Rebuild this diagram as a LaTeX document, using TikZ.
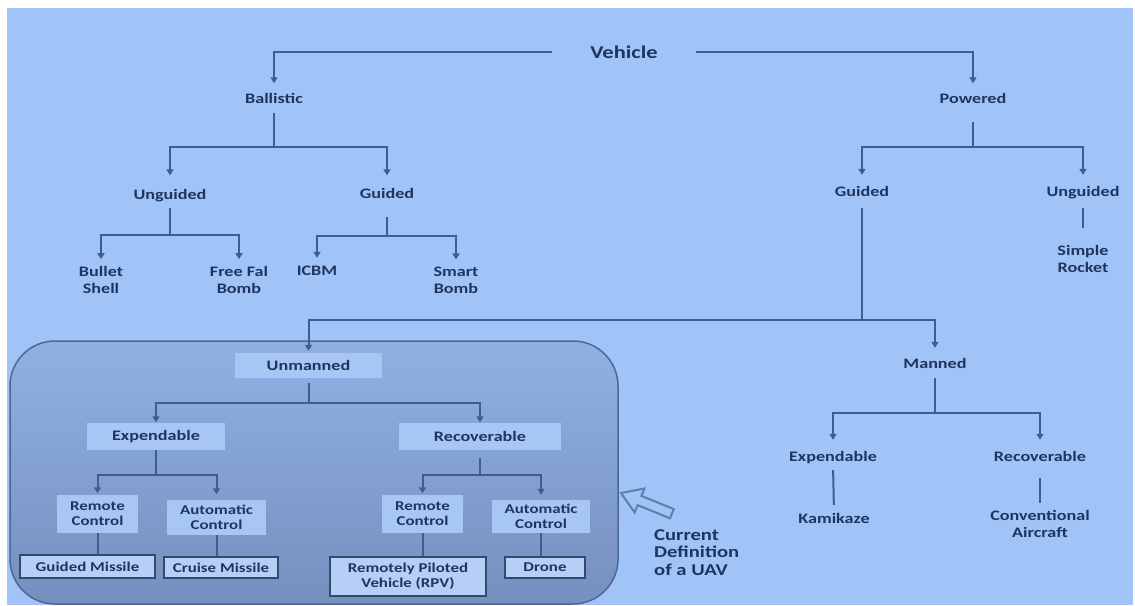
\documentclass[tikz,border=0pt]{standalone}
\usepackage{fontspec}
\setmainfont[FakeStretch=1.25]{Carlito}
\usetikzlibrary{arrows.meta,calc}
\definecolor{bg}{HTML}{A0C4F8}
\definecolor{txt}{HTML}{1E3560}
\definecolor{ln}{HTML}{3D5E8E}
\definecolor{boxtop}{HTML}{90B0E4}
\definecolor{boxbot}{HTML}{7690BE}
\definecolor{boxln}{HTML}{4C6892}
\definecolor{inbox}{HTML}{A8C6F4}
\definecolor{leaf}{HTML}{B6CFF6}
\definecolor{leafln}{HTML}{34496E}
\definecolor{hollow}{HTML}{5F7FA8}
\begin{document}
\begin{tikzpicture}[x=1pt,y=-1pt,
  lbl/.style={inner sep=0pt, text=txt, font=\bfseries\fontsize{14.5}{17}\selectfont, align=center},
  one/.style={lbl, text height=10pt, text depth=3pt},
  ibox/.style={inner sep=0pt, text=txt, font=\bfseries\fontsize{13.5}{15}\selectfont, align=center, fill=inbox},
  leafbox/.style={ibox, fill=leaf, draw=leafln, line width=2.5pt},
  conn/.style={draw=ln, line width=2pt},
  arr/.style={conn, -{Triangle[width=7pt,length=6pt]}},
]
\useasboundingbox (0,0) rectangle (1135,605);
\fill[bg] (7,8) rectangle (1133,605);

% UAV box
\draw[boxln, line width=1.5pt, top color=boxtop, bottom color=boxbot, rounded corners=45pt] (10,341) rectangle (618,604);

% top level
\node[lbl, font=\bfseries\fontsize{18}{20}\selectfont, minimum width=143] (veh) at (624,52) {Vehicle};
\node[one] (ball) at (274,100) {Ballistic};
\node[one] (pow) at (973,100) {Powered};

\node[one] (ung1) at (170,196) {Unguided};
\node[one] (gd1) at (387,195) {Guided};
\node[lbl] (bullet) at (101,280) {Bullet\\Shell};
\node[lbl] (freefal) at (239,280) {Free Fal\\Bomb};
\node[one] (icbm) at (317,272) {ICBM};
\node[lbl] (smart) at (456,280) {Smart\\Bomb};

\node[one] (gd2) at (862,193) {Guided};
\node[one] (ung2) at (1083,193) {Unguided};
\node[lbl] (rocket) at (1083,259) {Simple\\Rocket};

\node[one] (man) at (935,365) {Manned};
\node[one] (exp2) at (833,458) {Expendable};
\node[one] (rec2) at (1040,458) {Recoverable};
\node[one] (kami) at (834,520) {Kamikaze};
\node[lbl] (conv) at (1040,524) {Conventional\\Aircraft};

% unmanned boxes
\node[ibox, font=\bfseries\fontsize{14.5}{17}\selectfont, minimum width=147, minimum height=25] (unm) at (308.5,365.5) {Unmanned};
\node[ibox, font=\bfseries\fontsize{14.5}{17}\selectfont, minimum width=138, minimum height=27] (exp1) at (156,436.5) {Expendable};
\node[ibox, font=\bfseries\fontsize{14.5}{17}\selectfont, minimum width=162, minimum height=27] (rec1) at (480,436.5) {Recoverable};
\node[ibox, minimum width=81, minimum height=38] (rc1) at (97.5,514) {Remote\\Control};
\node[ibox, minimum width=99, minimum height=35] (ac1) at (216.5,517) {Automatic\\Control};
\node[ibox, minimum width=81, minimum height=38] (rc2) at (422.5,514) {Remote\\Control};
\node[ibox, minimum width=98, minimum height=33] (ac2) at (541,516.5) {Automatic\\Control};
\node[leafbox, minimum width=135, minimum height=23] (gm) at (87.5,566.5) {Guided Missile};
\node[leafbox, minimum width=114, minimum height=21] (cm) at (221,567.5) {Cruise Missile};
\node[leafbox, minimum width=156, minimum height=39] (rpv) at (408,576.5) {Remotely Piloted\\Vehicle (RPV)};
\node[leafbox, minimum width=80, minimum height=21] (drone) at (545,567.5) {Drone};

% current definition label and hollow arrow
\node[lbl, font=\bfseries\fontsize{16.5}{17.5}\selectfont, align=left, anchor=north west] (cur) at (654,529) {Current\\Definition\\of a UAV};
\draw[hollow, line width=2pt, fill=bg, line join=miter]
  (621,493) -- (644.4,488.5) -- (641.4,495.9) -- (673.8,509.1) -- (670,518.3)
  -- (637.6,505.1) -- (634.6,512.5) -- cycle;

% connectors: vehicle
\draw[arr, shorten >=10pt] (veh.west) -| (ball.north);
\draw[arr, shorten >=10pt] (veh.east) -| (pow.north);

% ballistic
\draw[arr, shorten <=6.5pt, shorten >=14pt] (ball.south) -- ++(0,40.5) -| (ung1.north);
\draw[arr, shorten >=13pt] (ball.south) ++(0,40.5) -| (gd1.north);
\draw[arr, shorten <=5.5pt, shorten >=7pt] (ung1.south) -- ++(0,32.5) -| (bullet.north);
\draw[arr, shorten >=7pt] (ung1.south) ++(0,32.5) -| (freefal.north);
\draw[arr, shorten <=15pt, shorten >=7.5pt] (gd1.south) -- ++(0,34.5) -| (icbm.north);
\draw[arr, shorten >=7pt] (gd1.south) ++(0,34.5) -| (smart.north);

% powered
\draw[arr, shorten <=15.5pt, shorten >=11.5pt] (pow.south) -- ++(0,40.5) -| (gd2.north);
\draw[arr, shorten >=11.5pt] (pow.south) ++(0,40.5) -| (ung2.north);
\draw[conn, shorten <=8.5pt, shorten >=17pt] (ung2.south) -- (rocket.north);

% guided -> unmanned / manned
\draw[conn, shorten <=8.5pt] (gd2.south) -- ++(0,120.5);
\draw[arr, shorten >=2pt] (gd2.south) ++(0,120.5) -| (unm.north);
\draw[arr, shorten >=10.5pt] (gd2.south) ++(0,120.5) -| (man.north);

% manned
\draw[arr, shorten <=6.5pt, shorten >=11.5pt] (man.south) -- ++(0,41.5) -| (exp2.north);
\draw[arr, shorten >=11.5pt] (man.south) ++(0,41.5) -| (rec2.north);
\draw[conn, shorten <=5.5pt, shorten >=8.5pt] (exp2.south) -- (kami.north);
\draw[conn, shorten <=13.5pt, shorten >=7pt] (rec2.south) -- (conv.north);

% unmanned
\draw[arr, shorten <=5pt, shorten >=0.5pt] (unm.south) -- ++(0,25) -| (exp1.north);
\draw[arr, shorten >=0.5pt] (unm.south) ++(0,25) -| (rec1.north);
\draw[arr, shorten >=1.5pt] (exp1.south) -- ++(0,25) -| (rc1.north);
\draw[arr, shorten >=5pt] (exp1.south) ++(0,25) -| (ac1.north);
\draw[arr, shorten <=8pt, shorten >=1.5pt] (rec1.south) -- ++(0,25) -| (rc2.north);
\draw[arr, shorten >=5pt] (rec1.south) ++(0,25) -| (ac2.north);
\draw[conn] (rc1.south) -- (rc1.south |- gm.north);
\draw[conn] (ac1.south) -- (ac1.south |- cm.north);
\draw[conn] (rc2.south) -- (rc2.south |- rpv.north);
\draw[conn] (ac2.south) -- (ac2.south |- drone.north);
\end{tikzpicture}
\end{document}
